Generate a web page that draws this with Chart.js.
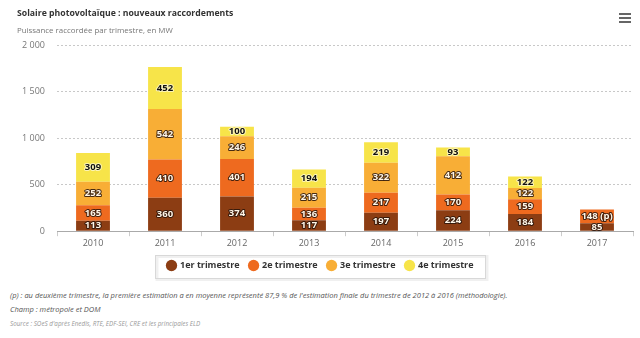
<!DOCTYPE html>
<html>
<head>
<meta charset="utf-8">
<script src="https://cdn.jsdelivr.net/npm/chart.js@4/dist/chart.umd.min.js"></script>
<style>
  html, body { margin: 0; padding: 0; background: #fff; }
  body { width: 640px; height: 338px; position: relative; overflow: hidden; font-family: "Open Sans", "DejaVu Sans", sans-serif; }
  #wrap { position: absolute; left: 0; top: 0; width: 640px; height: 288px; }
  #title { position: absolute; left: 17px; top: 7px; font-size: 8.7px; font-weight: bold; color: #333; white-space: nowrap; }
  #subtitle { position: absolute; left: 17px; top: 25px; font-size: 7.9px; color: #777; white-space: nowrap; }
  .menu { position: absolute; left: 619px; width: 12px; height: 2px; background: #666; }
  .note { position: absolute; left: 10px; font-style: italic; white-space: nowrap; }
</style>
</head>
<body>
<div id="wrap"><canvas id="c" width="640" height="288"></canvas></div>
<div id="title">Solaire photovoltaïque : nouveaux raccordements</div>
<div id="subtitle">Puissance raccordée par trimestre, en MW</div>
<div class="menu" style="top:13px"></div>
<div class="menu" style="top:17px"></div>
<div class="menu" style="top:21px"></div>
<div class="note" style="top:290px; font-size:7.5px; color:#555;">(p) : au deuxième trimestre, la première estimation a en moyenne représenté 87,9 % de l'estimation finale du trimestre de 2012 à 2016 (méthodologie).</div>
<div class="note" style="top:304px; font-size:7.5px; color:#555;">Champ : métropole et DOM</div>
<div class="note" style="top:319px; font-size:6.3px; color:#999;">Source : SOeS d'après Enedis, RTE, EDF-SEI, CRE et les principales ELD</div>
<script>
const years = ["2010", "2011", "2012", "2013", "2014", "2015", "2016", "2017"];
const q1 = [113, 360, 374, 117, 197, 224, 184, 85];
const q2 = [165, 410, 401, 136, 217, 170, 159, 148];
const q3 = [252, 542, 246, 215, 322, 412, 122, null];
const q4 = [309, 452, 100, 194, 219, 93, 122, null];
const q2Provisional = [false, false, false, false, false, false, false, true];
const seriesNames = ["1er trimestre", "2e trimestre", "3e trimestre", "4e trimestre"];
const yTicks = [0, 500, 1000, 1500, 2000];

const colors = ["#8c3d13", "#ee6a1f", "#f8ae36", "#f7e449"];

function fmt(v) { return String(v).replace(/\B(?=(\d{3})+(?!\d))/g, " "); }

const valueLabels = {
  id: "valueLabels",
  afterDatasetsDraw(chart) {
    const ctx = chart.ctx;
    ctx.save();
    ctx.font = "bold 9.5px 'Open Sans', 'DejaVu Sans', sans-serif";
    ctx.textAlign = "center";
    ctx.textBaseline = "middle";
    ctx.lineJoin = "round";
    chart.data.datasets.forEach((ds, di) => {
      const meta = chart.getDatasetMeta(di);
      meta.data.forEach((bar, i) => {
        const v = ds.data[i];
        if (v == null) return;
        let txt = String(v);
        if (di === 1 && q2Provisional[i]) txt += " (p)";
        const y = (bar.y + bar.base) / 2;
        if (di === 3) {
          ctx.lineWidth = 2;
          ctx.strokeStyle = "rgba(255,255,255,0.6)";
          ctx.strokeText(txt, bar.x, y);
          ctx.fillStyle = "#111";
          ctx.fillText(txt, bar.x, y);
        } else {
          ctx.lineWidth = 2;
          ctx.strokeStyle = "rgba(40,20,10,0.85)";
          ctx.strokeText(txt, bar.x, y);
          ctx.fillStyle = "#fff6e8";
          ctx.fillText(txt, bar.x, y);
        }
      });
    });
    ctx.restore();
  }
};

const legendBox = {
  id: "legendBox",
  afterDraw(chart) {
    const lg = chart.legend;
    if (!lg || !lg.legendHitBoxes || !lg.legendHitBoxes.length) return;
    const hb = lg.legendHitBoxes;
    let l = Infinity, r = -Infinity, t = Infinity, b = -Infinity;
    hb.forEach(h => { l = Math.min(l, h.left); r = Math.max(r, h.left + h.width); t = Math.min(t, h.top); b = Math.max(b, h.top + h.height); });
    const ctx = chart.ctx;
    ctx.save();
    ctx.strokeStyle = "rgba(0,0,0,0.06)";
    ctx.lineWidth = 3;
    ctx.strokeRect(l - 12 + 1.5, t - 6 + 1.5, r - l + 24, b - t + 14);
    ctx.strokeStyle = "#d8d8d8";
    ctx.lineWidth = 1;
    ctx.strokeRect(Math.round(l - 12) + 0.5, Math.round(t - 6) + 0.5, Math.round(r - l + 24), Math.round(b - t + 14));
    ctx.restore();
  }
};

new Chart(document.getElementById("c"), {
  type: "bar",
  data: {
    labels: years,
    datasets: [q1, q2, q3, q4].map((d, i) => ({
      label: seriesNames[i],
      data: d,
      backgroundColor: colors[i],
      borderWidth: 0,
      categoryPercentage: 1,
      barPercentage: 0.47
    }))
  },
  options: {
    responsive: false,
    animation: false,
    devicePixelRatio: 1,
    layout: { padding: { top: 45, left: 8, right: 7, bottom: 8 } },
    plugins: {
      title: { display: false },
      tooltip: { enabled: false },
      legend: {
        position: "bottom",
        labels: {
          usePointStyle: true,
          pointStyle: "circle",
          boxWidth: 8,
          boxHeight: 8,
          padding: 10,
          color: "#333",
          font: { size: 9, weight: "bold", family: "'Open Sans', 'DejaVu Sans', sans-serif" }
        }
      }
    },
    scales: {
      x: {
        stacked: true,
        grid: { display: true, drawOnChartArea: false, drawTicks: true, tickLength: 5, color: "#ccc", offset: true },
        border: { display: true, color: "#aaa", width: 1 },
        ticks: { color: "#666", font: { size: 9, family: "'Open Sans', 'DejaVu Sans', sans-serif" }, padding: 2 }
      },
      y: {
        stacked: true,
        min: 0,
        max: 2000,
        afterFit(s) { s.width = 49; },
        afterBuildTicks(s) { s.ticks = yTicks.map(v => ({ value: v })); },
        grid: { color: "#c8c8c8", drawTicks: false },
        border: { display: false, dash: [2, 2] },
        ticks: { color: "#777", padding: 12, font: { size: 9, family: "'Open Sans', 'DejaVu Sans', sans-serif" }, callback: v => fmt(v) }
      }
    }
  },
  plugins: [valueLabels, legendBox]
});
</script>
</body>
</html>
